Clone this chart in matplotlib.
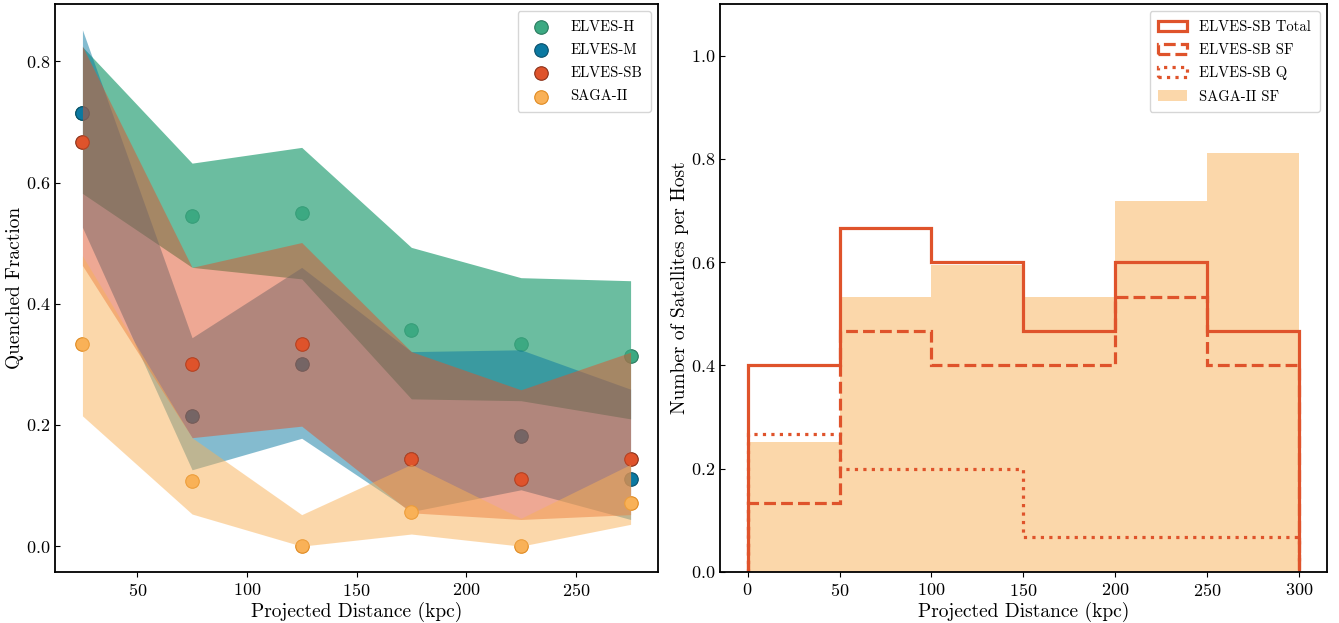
import matplotlib
matplotlib.use("Agg")
import matplotlib.pyplot as plt
import numpy as np

plt.rcParams['font.family'] = 'serif'
plt.rcParams['font.serif'] = ['cmr10', 'DejaVu Serif']
plt.rcParams['mathtext.fontset'] = 'cm'
plt.rcParams['axes.formatter.use_mathtext'] = True
plt.rcParams['axes.unicode_minus'] = False

# quenched fraction vs projected distance
dist = [25, 75, 125, 175, 225, 275]

h_frac = [0.714, 0.545, 0.55, 0.357, 0.333, 0.313]
h_lo = [0.582, 0.46, 0.441, 0.243, 0.240, 0.210]
h_hi = [0.824, 0.632, 0.658, 0.493, 0.443, 0.438]

m_frac = [0.714, 0.214, 0.30, 0.143, 0.182, 0.111]
m_lo = [0.526, 0.126, 0.178, 0.057, 0.093, 0.044]
m_hi = [0.852, 0.344, 0.46, 0.321, 0.324, 0.259]

sb_frac = [0.667, 0.30, 0.333, 0.143, 0.111, 0.143]
sb_lo = [0.463, 0.179, 0.198, 0.055, 0.044, 0.052]
sb_hi = [0.825, 0.46, 0.501, 0.321, 0.258, 0.320]

saga_frac = [0.333, 0.107, 0.0, 0.056, 0.0, 0.071]
saga_lo = [0.215, 0.053, 0.0, 0.02, 0.0, 0.036]
saga_hi = [0.479, 0.179, 0.052, 0.135, 0.046, 0.135]

# satellites per host histograms
bin_edges = [0, 50, 100, 150, 200, 250, 300]
sb_total = [0.4, 0.667, 0.6, 0.467, 0.6, 0.467]
sb_sf = [0.133, 0.467, 0.4, 0.4, 0.533, 0.4]
sb_q = [0.267, 0.2, 0.2, 0.067, 0.067, 0.067]
saga_sf = [0.251, 0.533, 0.595, 0.533, 0.718, 0.812]

c_h = '#3ca982'
c_m = '#0b79a1'
c_sb = '#df532b'
c_saga = '#f9b157'

fig = plt.figure(figsize=(13.39, 6.23), dpi=100)
ax1 = fig.add_axes([0.0411, 0.0819, 0.4503, 0.9117])
ax2 = fig.add_axes([0.5377, 0.0819, 0.4533, 0.9117])

series = [
    ('ELVES-H', h_frac, h_lo, h_hi, c_h, '#2a7a5e', 0.76),
    ('ELVES-M', m_frac, m_lo, m_hi, c_m, '#0a4f6a', 0.5),
    ('ELVES-SB', sb_frac, sb_lo, sb_hi, c_sb, '#8a3018', 0.5),
    ('SAGA-II', saga_frac, saga_lo, saga_hi, c_saga, '#e08a20', 0.5),
]
for name, frac, lo, hi, col, ecol, a in series:
    ax1.scatter(dist, frac, s=95, color=col, edgecolor=ecol, linewidth=0.8, label=name)
    ax1.fill_between(dist, lo, hi, color=col, alpha=a, linewidth=0)

ax1.set_xlabel('Projected Distance (kpc)', fontsize=14, labelpad=2)
ax1.set_ylabel('Quenched Fraction', fontsize=14, labelpad=1)
ax1.set_xticks([50, 100, 150, 200, 250])
ax1.set_yticks([0.0, 0.2, 0.4, 0.6, 0.8])
ax1.legend(loc='upper right', fontsize=10.5, scatterpoints=1, borderpad=0.6,
           labelspacing=0.65, handletextpad=1.0)

centers = np.array(bin_edges[:-1]) + 25
ax2.hist(centers, bins=bin_edges, weights=saga_sf, color=c_saga, alpha=0.5,
         label='SAGA-II SF')
ax2.hist(centers, bins=bin_edges, weights=sb_total, histtype='step', color=c_sb,
         linewidth=2.3, label='ELVES-SB Total')
ax2.hist(centers, bins=bin_edges, weights=sb_sf, histtype='step', color=c_sb,
         linewidth=2.3, linestyle='--', label='ELVES-SB SF')
ax2.hist(centers, bins=bin_edges, weights=sb_q, histtype='step', color=c_sb,
         linewidth=2.3, linestyle=':', label='ELVES-SB Q')
ax2.set_ylim(0, 1.1)
ax2.set_xlim(-15, 315)
ax2.set_xticks(bin_edges)
ax2.set_yticks([0.0, 0.2, 0.4, 0.6, 0.8, 1.0])
ax2.set_xlabel('Projected Distance (kpc)', fontsize=14, labelpad=2)
ax2.set_ylabel('Number of Satellites per Host', fontsize=14, labelpad=1)
handles, labels = ax2.get_legend_handles_labels()
order = [1, 2, 3, 0]
ax2.legend([handles[i] for i in order], [labels[i] for i in order],
           loc='upper right', fontsize=10.5, borderpad=0.6, labelspacing=0.65,
           handletextpad=0.8)

for ax in (ax1, ax2):
    ax.tick_params(axis='x', direction='out', labelsize=13)
    ax.tick_params(axis='y', direction='in', labelsize=13)
    for sp in ax.spines.values():
        sp.set_linewidth(1.3)

fig.savefig('out.png', dpi=100)
